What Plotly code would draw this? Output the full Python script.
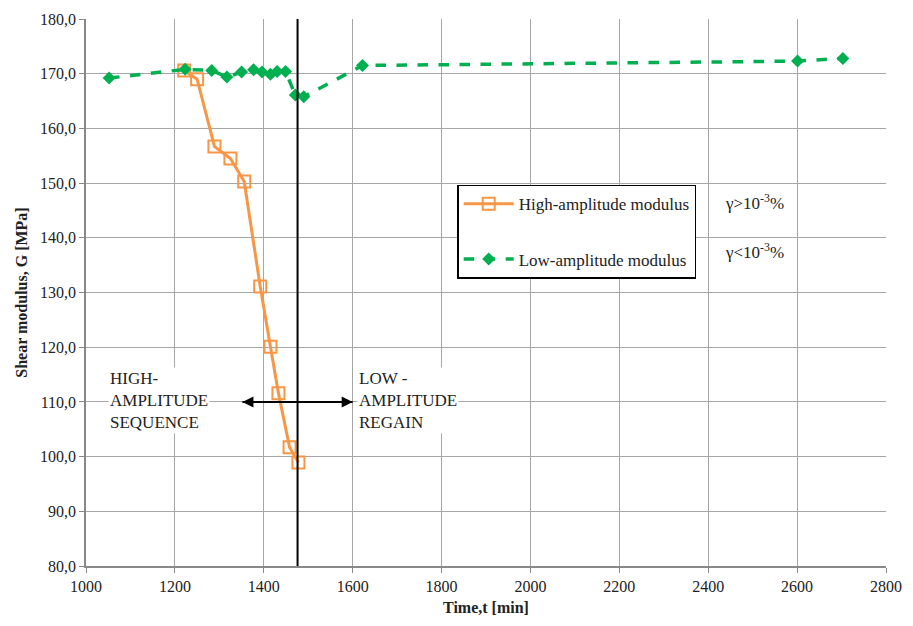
import plotly.graph_objects as go

# Data
high_t = [1221, 1250, 1289, 1325, 1356, 1392, 1415, 1433, 1458, 1478]
high_G = [170.6, 169.0, 156.7, 154.5, 150.3, 131.1, 120.1, 111.6, 101.7, 98.9]

low_t = [1052, 1223, 1283, 1317, 1350, 1377, 1396, 1415, 1430, 1449, 1471, 1490, 1622, 2601, 2703]
low_G = [169.2, 170.8, 170.6, 169.4, 170.3, 170.7, 170.3, 169.9, 170.4, 170.4, 166.1, 165.8, 171.5, 172.3, 172.8]

x_ticks = [1000, 1200, 1400, 1600, 1800, 2000, 2200, 2400, 2600, 2800]
y_ticks = [80, 90, 100, 110, 120, 130, 140, 150, 160, 170, 180]
y_ticklabels = [f"{v:.1f}".replace(".", ",") for v in y_ticks]
x_ticklabels = [str(v) for v in x_ticks]

boundary_t = 1476
arrow_G = 110
arrow_t = [1352, 1600]

ORANGE = "#F79646"
GREEN = "#00B050"
FONT = "Liberation Serif"
TXT = "#222222"

fig = go.Figure()
fig.add_trace(go.Scatter(
    x=high_t, y=high_G, mode="lines+markers", name="High-amplitude modulus",
    line=dict(color=ORANGE, width=3),
    marker=dict(symbol="square-open", size=12, color=ORANGE, line=dict(width=2, color=ORANGE)),
    legendgroup="a",
))
fig.add_trace(go.Scatter(
    x=low_t, y=low_G, mode="lines+markers", name="Low-amplitude modulus",
    line=dict(color=GREEN, width=3.5, dash="dash"),
    marker=dict(symbol="diamond", size=10, color=GREEN),
    legendgroup="b",
))
fig.add_trace(go.Scatter(
    x=arrow_t, y=[arrow_G, arrow_G], mode="lines+markers", showlegend=False,
    hoverinfo="skip", line=dict(color="black", width=2),
    marker=dict(symbol=["arrow-left", "arrow-right"], size=11, color="black"),
))

fig.add_shape(type="line", x0=boundary_t, x1=boundary_t, y0=80, y1=180,
              xref="x", yref="y", line=dict(color="black", width=2))

fig.add_annotation(x=1050, y=110.3, xref="x", yref="y", xanchor="left", yanchor="middle",
                   text="HIGH-<br>AMPLITUDE<br>SEQUENCE", showarrow=False, align="left",
                   bgcolor="white", font=dict(family="Liberation Serif", size=17))
fig.add_annotation(x=1610, y=110.3, xref="x", yref="y", xanchor="left", yanchor="middle",
                   text="LOW -<br>AMPLITUDE<br>REGAIN", showarrow=False, align="left",
                   bgcolor="white", font=dict(family="Liberation Serif", size=17))

fig.add_annotation(x=0.796, y=0.69, xref="paper", yref="paper", xanchor="left",
                   text="γ>10<sup>-3</sup>%", showarrow=False,
                   font=dict(family="Liberation Serif", size=17))
fig.add_annotation(x=0.796, y=0.575, xref="paper", yref="paper", xanchor="left",
                   text="γ<10<sup>-3</sup>%", showarrow=False,
                   font=dict(family="Liberation Serif", size=17))

fig.update_layout(
    width=913, height=626,
    margin=dict(l=86, r=21, t=11, b=60),
    paper_bgcolor="white", plot_bgcolor="white",
    font_family="Liberation Serif",
    font_color=TXT,
    showlegend=True,
    legend=dict(x=0.464, y=0.697, xanchor="left", yanchor="top",
                bgcolor="white", bordercolor="black", borderwidth=1.5,
                font=dict(family="Liberation Serif", size=17),
                itemwidth=50, tracegroupgap=30, traceorder="grouped"),
)
fig.update_xaxes(range=[1000, 2800], tickvals=x_ticks, ticktext=x_ticklabels,
                 showgrid=True, gridcolor="#a6a6a6", gridwidth=1,
                 showline=True, linecolor="#888888", linewidth=1.5,
                 ticks="outside", ticklen=5, tickcolor="#888888", zeroline=False,
                 tickfont=dict(family="Liberation Serif", size=16),
                 title=dict(text="<b>Time,t [min]</b>", font=dict(family="Liberation Serif", size=16), standoff=8))
fig.update_yaxes(range=[80, 180], tickvals=y_ticks, ticktext=y_ticklabels,
                 showgrid=True, gridcolor="#a6a6a6", gridwidth=1,
                 showline=True, linecolor="#888888", linewidth=1.5,
                 ticks="outside", ticklen=5, tickcolor="#888888", zeroline=False,
                 tickfont=dict(family="Liberation Serif", size=16),
                 title=dict(text="<b>Shear modulus, G [MPa]</b>", font=dict(family="Liberation Serif", size=16), standoff=8))

fig.write_html("out.html")
